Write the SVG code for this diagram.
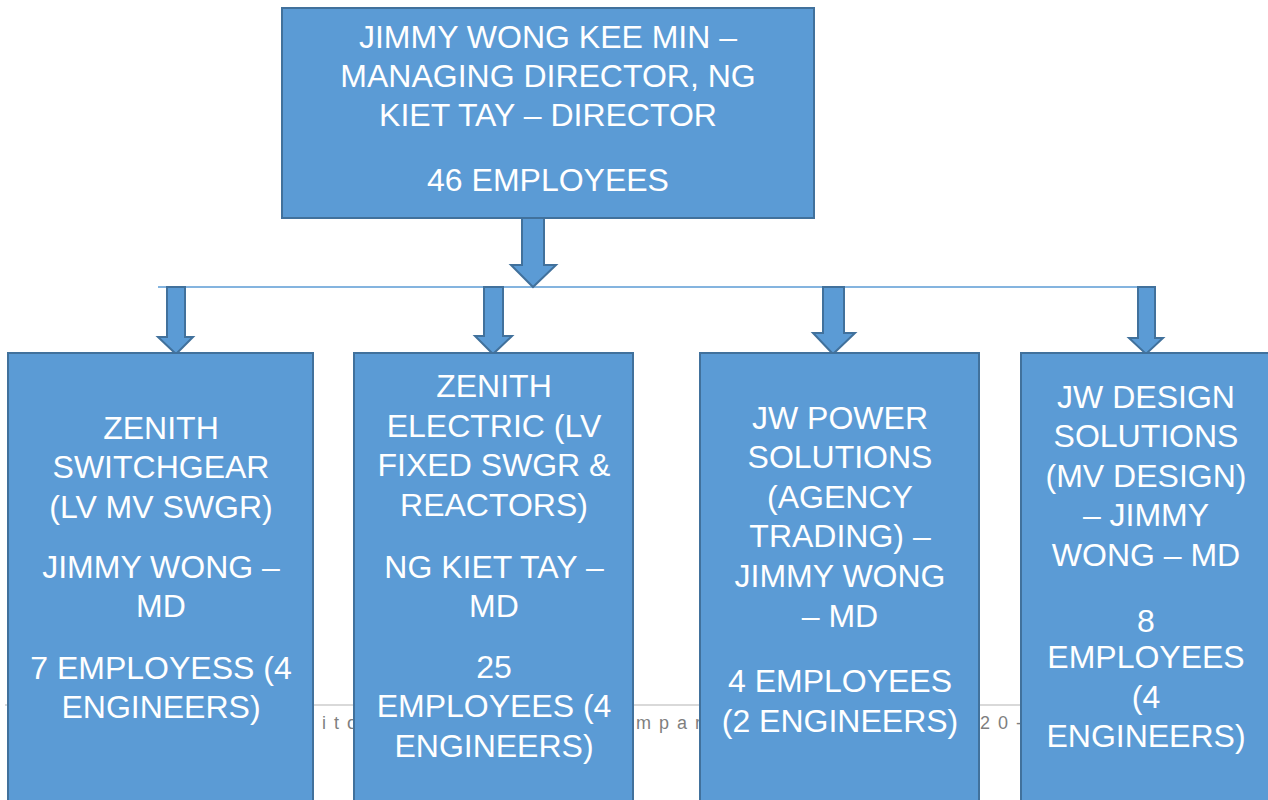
<svg xmlns="http://www.w3.org/2000/svg" width="1268" height="800" viewBox="0 0 1268 800">
<style>
.box{fill:#5B9BD5;stroke:#41719C;stroke-width:2}
.arr{fill:#5B9BD5;stroke:#41719C;stroke-width:2;stroke-linejoin:miter}
.t{font-family:"Liberation Sans",Arial,sans-serif;font-size:32px;fill:#FFFFFF;text-anchor:middle}
.foot{font-family:"Liberation Sans",Arial,sans-serif;font-size:18px;fill:#7F7F7F;letter-spacing:8px}
</style>
<rect x="0" y="0" width="1268" height="800" fill="#FFFFFF"/>
<g id="footer">
<line x1="5" y1="705" x2="1021" y2="705" stroke="#D9D9D9" stroke-width="2"/>
<text class="foot" x="322" y="729">ito</text>
<text class="foot" x="636" y="729">mpar</text>
<text class="foot" x="980" y="729">20-</text>
</g>
<g id="connectors">
<line x1="158" y1="287" x2="1146" y2="287" stroke="#5B9BD5" stroke-width="1.5"/>
<polygon class="arr" points="522,218 544,218 544,265 556,265 533,287 511,265 522,265"/>
<polygon class="arr" points="167,287 185,287 185,337 193,337 176,354 158,337 167,337"/>
<polygon class="arr" points="484,287 503,287 503,336 512,336 493,354 475,336 484,336"/>
<polygon class="arr" points="823,287 844,287 844,333 855,333 833,354 813,333 823,333"/>
<polygon class="arr" points="1138,287 1155,287 1155,338 1163,338 1146,354 1129,338 1138,338"/>
</g>
<g id="top">
<rect class="box" x="282" y="8" width="532" height="210"/>
<text class="t" x="548" y="48">JIMMY WONG KEE MIN –</text>
<text class="t" x="548" y="87">MANAGING DIRECTOR, NG</text>
<text class="t" x="548" y="126">KIET TAY – DIRECTOR</text>
<text class="t" x="548" y="191">46 EMPLOYEES</text>
</g>
<g id="zenith-switchgear">
<rect class="box" x="8" y="353" width="305" height="460"/>
<text class="t" x="161" y="439">ZENITH</text>
<text class="t" x="161" y="478">SWITCHGEAR</text>
<text class="t" x="161" y="518">(LV MV SWGR)</text>
<text class="t" x="161" y="578">JIMMY WONG –</text>
<text class="t" x="161" y="617">MD</text>
<text class="t" x="161" y="679">7 EMPLOYESS (4</text>
<text class="t" x="161" y="718">ENGINEERS)</text>
</g>
<g id="zenith-electric">
<rect class="box" x="354" y="353" width="279" height="460"/>
<text class="t" x="494" y="397">ZENITH</text>
<text class="t" x="494" y="437">ELECTRIC (LV</text>
<text class="t" x="494" y="476">FIXED SWGR &amp;</text>
<text class="t" x="494" y="516">REACTORS)</text>
<text class="t" x="494" y="578">NG KIET TAY –</text>
<text class="t" x="494" y="617">MD</text>
<text class="t" x="494" y="678">25</text>
<text class="t" x="494" y="717">EMPLOYEES (4</text>
<text class="t" x="494" y="757">ENGINEERS)</text>
</g>
<g id="jw-power">
<rect class="box" x="700" y="353" width="279" height="460"/>
<text class="t" x="840" y="429">JW POWER</text>
<text class="t" x="840" y="468">SOLUTIONS</text>
<text class="t" x="840" y="508">(AGENCY</text>
<text class="t" x="840" y="547">TRADING) –</text>
<text class="t" x="840" y="587">JIMMY WONG</text>
<text class="t" x="840" y="627">– MD</text>
<text class="t" x="840" y="692">4 EMPLOYEES</text>
<text class="t" x="840" y="732">(2 ENGINEERS)</text>
</g>
<g id="jw-design">
<rect class="box" x="1021" y="353" width="252" height="460"/>
<text class="t" x="1146" y="408">JW DESIGN</text>
<text class="t" x="1146" y="447">SOLUTIONS</text>
<text class="t" x="1146" y="487">(MV DESIGN)</text>
<text class="t" x="1146" y="526">– JIMMY</text>
<text class="t" x="1146" y="566">WONG – MD</text>
<text class="t" x="1146" y="632">8</text>
<text class="t" x="1146" y="668">EMPLOYEES</text>
<text class="t" x="1146" y="708">(4</text>
<text class="t" x="1146" y="747">ENGINEERS)</text>
</g>
</svg>
